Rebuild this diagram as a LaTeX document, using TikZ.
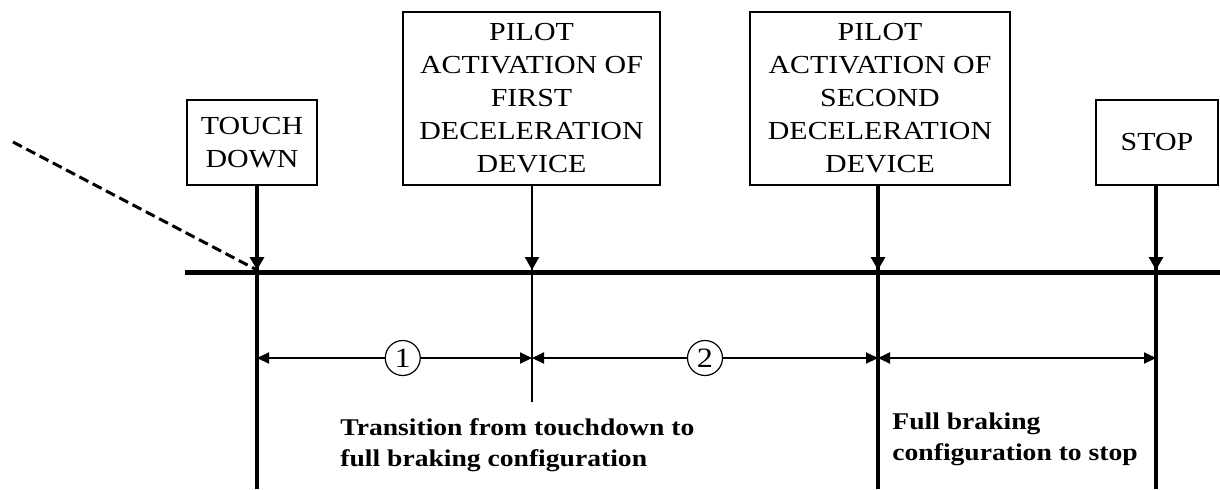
\documentclass[tikz,border=0pt]{standalone}
\usepackage{fontspec}
\setmainfont{Liberation Serif}[FakeStretch=1.15]
\usetikzlibrary{arrows.meta}

\begin{document}
\begin{tikzpicture}[
             x = 0.5pt, y = -0.5pt,
EventBox/.style={draw, line width=0.75pt, align=center, inner sep=2pt,
                 outer sep=0pt, font=\fontsize{13}{16.5}\selectfont},
NumCircle/.style={circle, draw, line width=0.6pt, fill=white, inner sep=0pt,
                 minimum size=17.5pt, font=\fontsize{14}{14}\selectfont},
PhaseText/.style={align=left, inner sep=0pt, anchor=north west,
                 font=\bfseries\fontsize{12}{15.5}\selectfont},
TimeLine/.style={line width=2.5pt},
EventLine/.style={line width=1.75pt},
ThinLine/.style={line width=1pt},
  ]
\useasboundingbox (0,0) rectangle (1220,489);
% event boxes
\node [EventBox, minimum width=65pt,    minimum height=42.5pt] (td)     at (252,142.5)  {TOUCH\\DOWN};
\node [EventBox, minimum width=128.5pt, minimum height=86.5pt] (first)  at (531.5,98.5) {PILOT\\ACTIVATION OF\\FIRST\\DECELERATION\\DEVICE};
\node [EventBox, minimum width=130pt,   minimum height=86.5pt] (second) at (880,98.5)   {PILOT\\ACTIVATION OF\\SECOND\\DECELERATION\\DEVICE};
\node [EventBox, minimum width=61pt,    minimum height=42.5pt] (stop)   at (1157,142.5) {STOP};
% where the events meet the time line
\coordinate (td-hit)     at (257,270);
\coordinate (first-hit)  at (532,270);
\coordinate (second-hit) at (878,270);
\coordinate (stop-hit)   at (1156,270);
\coordinate (td-end)     at (257,489);
\coordinate (first-end)  at (532,402);
\coordinate (second-end) at (878,489);
\coordinate (stop-end)   at (1156,489);
\coordinate (td-dim)     at (257,358);
\coordinate (first-dim)  at (532,358);
\coordinate (second-dim) at (878,358);
\coordinate (stop-dim)   at (1156,358);
\coordinate (tl-start)   at (185,272);
\coordinate (tl-stop)    at (1220,272);
\coordinate (approach)   at (13,142);

\draw[TimeLine] (tl-start) -- (tl-stop);
\draw[EventLine] (td.south -| td-hit) -- (td-end);
\draw[ThinLine] (first.south -| first-hit) -- (first-end);
\draw[EventLine] (second.south -| second-hit) -- (second-end);
\draw[EventLine] (stop.south -| stop-hit) -- (stop-end);
\draw[line width=1.5pt, dash pattern=on 5pt off 2.5pt] (approach) -- (td-hit);
\begin{scope}[arrows={-{Triangle[length=6.5pt, width=7pt]}}]
  \draw[EventLine] (td.south -| td-hit) -- (td-hit);
  \draw[ThinLine]  (first.south -| first-hit) -- (first-hit);
  \draw[EventLine] (second.south -| second-hit) -- (second-hit);
  \draw[EventLine] (stop.south -| stop-hit) -- (stop-hit);
\end{scope}
\begin{scope}[ThinLine, arrows={{Triangle[length=6pt, width=5.5pt]}-{Triangle[length=6pt, width=5.5pt]}}]
  \draw (td-dim) -- node[NumCircle, pos=0.53] (n1) {1} (first-dim);
  \draw (first-dim) -- node[NumCircle, pos=0.5] (n2) {2} (second-dim);
  \draw (second-dim) -- (stop-dim);
\end{scope}
\node [PhaseText] (trans) at (340,418) {Transition from touchdown to\\full braking configuration};
\node [PhaseText] (full)  at (892,412) {Full braking\\configuration to stop};
\end{tikzpicture}
\end{document}
